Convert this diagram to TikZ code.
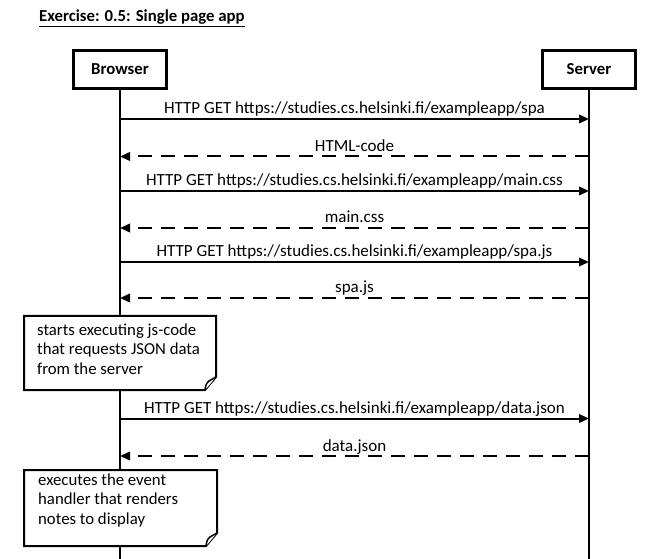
\documentclass[tikz,border=0pt]{standalone}
\usepackage{fontspec}
\setmainfont{Carlito}
\usetikzlibrary{arrows.meta}
\begin{document}
\begin{tikzpicture}[x=1pt,y=-1pt,
  actor/.style={draw,line width=2.4pt,font=\fontsize{16.75}{19}\selectfont\bfseries,minimum width=93pt,minimum height=38pt,inner sep=0pt},
  life/.style={line width=2pt},
  msg/.style={line width=2pt,-{Triangle[length=10pt,width=8.5pt]}},
  reply/.style={msg,dash pattern=on 14pt off 9pt},
  lbl/.style={font=\fontsize{17}{19}\selectfont,anchor=base,inner sep=0pt,yshift=5pt},
  notebox/.style={line width=2pt,fill=white},
  notetext/.style={font=\fontsize{16.75}{19.7}\selectfont,align=left,anchor=base west,inner sep=0pt}]
\useasboundingbox (0,0) rectangle (657,559);
\node[anchor=base west,font=\fontsize{16.75}{19}\selectfont\bfseries,inner sep=0pt] (title) at (39,22) {\underline{Exercise: 0.5: Single page app}};
\node[actor] (browser) at (120,69.5) {Browser};
\node[actor] (server) at (589,69.5) {Server};
\coordinate (bend) at (120,559);
\coordinate (send) at (589,559);
\draw[life] (browser.south) -- (bend);
\draw[life] (server.south) -- (send);
% messages
\foreach \n/\y in {1/119,2/156.5,3/191,4/228,5/262,6/298,7/418.5,8/456}{
  \coordinate (b\n) at (120,\y);
  \coordinate (s\n) at (589,\y);
}
\draw[msg] (b1) -- node[lbl] {HTTP GET https://studies.cs.helsinki.fi/exampleapp/spa} (s1);
\draw[reply] (s2) -- node[lbl] {HTML-code} (b2);
\draw[msg] (b3) -- node[lbl] {HTTP GET https://studies.cs.helsinki.fi/exampleapp/main.css} (s3);
\draw[reply] (s4) -- node[lbl] {main.css} (b4);
\draw[msg] (b5) -- node[lbl] {HTTP GET https://studies.cs.helsinki.fi/exampleapp/spa.js} (s5);
\draw[reply] (s6) -- node[lbl] {spa.js} (b6);
\draw[msg] (b7) -- node[lbl] {HTTP GET https://studies.cs.helsinki.fi/exampleapp/data.json} (s7);
\draw[reply] (s8) -- node[lbl] {data.json} (b8);
% note 1
\draw[notebox] (24,316) -- (216,316) -- (216,377) -- (205,390) -- (24,390) -- cycle;
\draw[line width=1.5pt,fill=white] (216,377) -- (209,381) .. controls (206,384) .. (205,390);
\node[notetext] (note1) at (37,374.4) {starts executing js-code\\that requests JSON data\\from the server};
% note 2
\draw[notebox] (24,470) -- (217,470) -- (217,533) -- (206,546) -- (24,546) -- cycle;
\draw[line width=1.5pt,fill=white] (217,533) -- (210,537) .. controls (207,540) .. (206,546);
\node[notetext] (note2) at (38,524.4) {executes the event\\handler that renders\\notes to display};
\end{tikzpicture}
\end{document}
